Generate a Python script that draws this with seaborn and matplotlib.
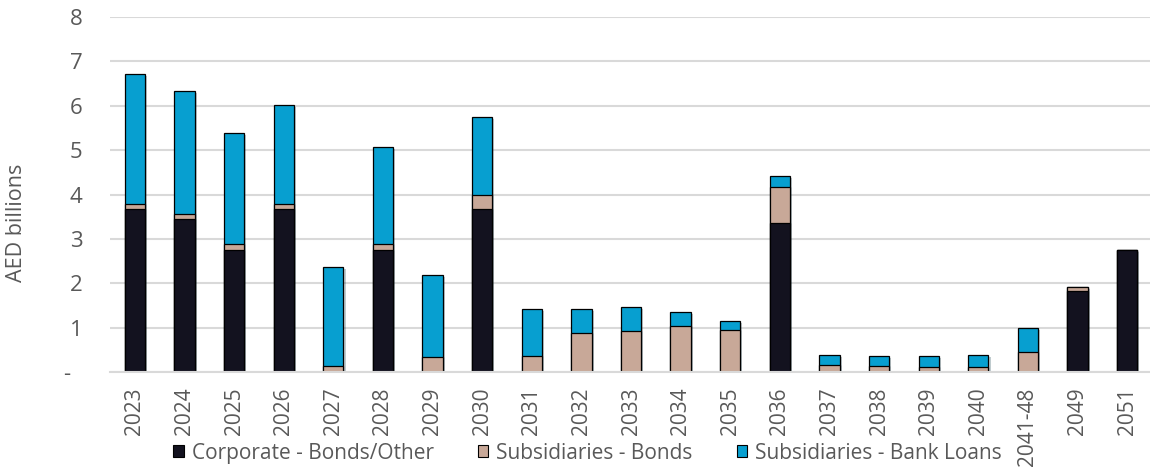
import matplotlib
matplotlib.use("Agg")
import numpy as np
import pandas as pd
import seaborn as sns
import matplotlib.pyplot as plt
import matplotlib.patheffects as pe
from matplotlib.patches import Patch

sns.set_theme(style="white")
plt.rcParams["font.family"] = ["Open Sans", "DejaVu Sans"]

years = ["2023", "2024", "2025", "2026", "2027", "2028", "2029", "2030",
         "2031", "2032", "2033", "2034", "2035", "2036", "2037", "2038",
         "2039", "2040", "2041-48", "2049", "2051"]
corporate = [3.67, 3.45, 2.75, 3.67, 0, 2.75, 0, 3.67, 0, 0, 0, 0, 0,
             3.35, 0, 0, 0, 0, 0, 1.83, 2.75]
sub_bonds = [0.11, 0.12, 0.13, 0.11, 0.14, 0.13, 0.34, 0.33, 0.35, 0.87,
             0.92, 1.03, 0.95, 0.81, 0.15, 0.13, 0.12, 0.11, 0.45, 0.09, 0]
sub_loans = [2.93, 2.76, 2.50, 2.23, 2.22, 2.19, 1.85, 1.74, 1.08, 0.55,
             0.55, 0.33, 0.21, 0.25, 0.23, 0.24, 0.25, 0.28, 0.54, 0, 0]
series_names = ["Corporate - Bonds/Other", "Subsidiaries - Bonds",
                "Subsidiaries - Bank Loans"]
colors = ["#13121f", "#c8a898", "#079fd0"]
text_color = "#595959"

df = pd.DataFrame({"year": years, "corp": corporate,
                   "bonds": sub_bonds, "loans": sub_loans})
df["lvl1"] = df["corp"]
df["lvl2"] = df["corp"] + df["bonds"]
df["lvl3"] = df["lvl2"] + df["loans"]

fig = plt.figure(figsize=(11.5, 4.68), dpi=100)
ax = fig.add_axes([0.0957, 0.2051, 0.906, 0.7586])

shadow = [pe.SimplePatchShadow(offset=(1.5, -1.5), alpha=0.25), pe.Normal()]
# draw back to front: total first, then lower stacks on top
for col, c in [("lvl3", colors[2]), ("lvl2", colors[1]), ("lvl1", colors[0])]:
    sns.barplot(data=df, x="year", y=col, color=c, saturation=1, width=0.41,
                edgecolor="black", linewidth=0.9, ax=ax)

for i, p in enumerate(ax.patches):
    if i < len(years):
        p.set_path_effects(shadow)
    if p.get_height() == 0:
        p.set_visible(False)

ax.set_xlim(-0.5, len(years) - 0.5)
ax.set_ylim(0, 8)
ax.set_yticks(range(0, 9))
ax.set_yticklabels(["-  "] + [str(v) for v in range(1, 9)])
ax.yaxis.grid(True, color="#d9d9d9", linewidth=1.5)
ax.set_axisbelow(True)
for s in ["top", "right", "left"]:
    ax.spines[s].set_visible(False)
ax.spines["bottom"].set_color("#d9d9d9")
ax.spines["bottom"].set_linewidth(1.5)
ax.tick_params(axis="y", length=0, pad=20, labelsize=16, colors=text_color)
ax.tick_params(axis="x", length=0, pad=11, labelsize=15, colors=text_color,
               labelrotation=90)
ax.set_xlabel("")
ax.set_ylabel("AED billions", fontsize=15.5, color=text_color)
ax.yaxis.set_label_coords(-0.080, 0.42)

handles = [Patch(facecolor=c, edgecolor="black", linewidth=0.8) for c in colors]
fig.legend(handles, series_names, loc="center", bbox_to_anchor=(0.511, 0.032),
           ncol=3, frameon=False, fontsize=15, handlelength=0.5,
           handleheight=0.55, handletextpad=0.4, columnspacing=2.1,
           labelcolor=text_color, borderaxespad=0, borderpad=0)

fig.savefig("out.png", dpi=100)
